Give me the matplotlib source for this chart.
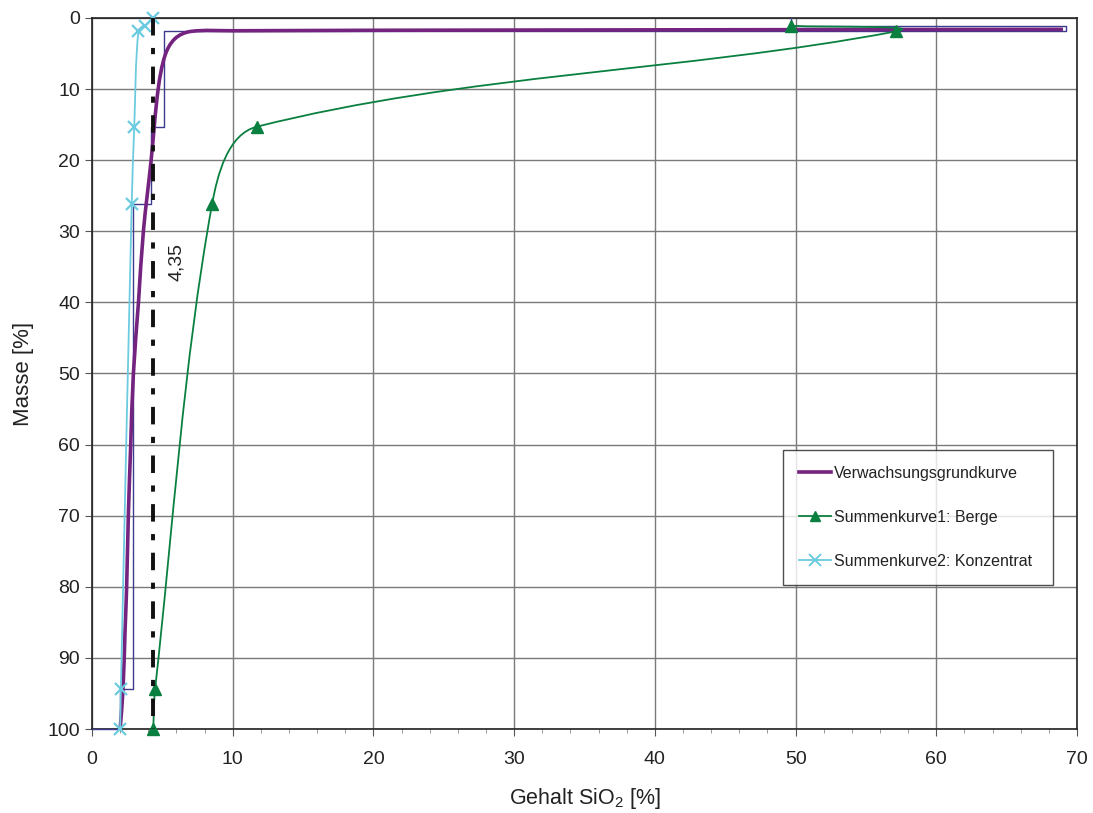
import matplotlib
matplotlib.use("Agg")
import matplotlib.pyplot as plt
import numpy as np
from matplotlib.path import Path
from matplotlib.patches import PathPatch
from matplotlib.lines import Line2D
from matplotlib.ticker import MultipleLocator

plt.rcParams['font.family'] = ['Liberation Sans', 'DejaVu Sans']
plt.rcParams['mathtext.fontset'] = 'custom'
plt.rcParams['mathtext.rm'] = 'Liberation Sans'
plt.rcParams['mathtext.it'] = 'Liberation Sans'

# Summenkurve1: Berge
berge_x = [4.35, 4.48, 8.53, 11.7, 57.1, 49.7]
berge_y = [100, 94.4, 26.2, 15.3, 1.9, 1.1]

# Summenkurve2: Konzentrat
konz_x = [2.0, 2.05, 2.82, 3.0, 3.3, 3.75, 4.35]
konz_y = [100, 94.4, 26.2, 15.3, 1.8, 1.1, 0]

# SiO2 content of each fraction (step histogram)
fraktion_x = [2.0, 2.94, 4.17, 5.12, 69.2, 49.7]
fraktion_m = [100, 94.4, 26.2, 15.3, 1.8, 1.2, 0]

# Verwachsungsgrundkurve
grund_x = [2.0, 2.2, 2.35, 2.46, 2.58, 2.75, 2.94, 3.3, 3.65, 4.2, 4.7, 5.2, 5.9, 7.0, 10, 30, 69]
grund_y = [100, 94.4, 86, 80, 70, 60, 50, 40, 30, 20, 10, 5.2, 2.9, 1.9, 1.8, 1.7, 1.6]

trennung = 4.35

c_purple = '#74237f'
c_green = '#0a8040'
c_cyan = '#6ccbe0'
c_navy = '#3b3b8f'
c_text = '#222222'


def smooth_path(ax, xs, ys):
    # excel-like smoothed line: bezier segments, tangents in display space
    pts = ax.transData.transform(np.column_stack([xs, ys]))
    n = len(pts)
    tang = []
    for i in range(n):
        a = pts[max(i - 1, 0)]
        b = pts[min(i + 1, n - 1)]
        d = b - a
        tang.append(d / (np.hypot(*d) + 1e-9))
    verts = [pts[0]]
    codes = [Path.MOVETO]
    for i in range(n - 1):
        d = np.hypot(*(pts[i + 1] - pts[i])) / 3
        verts += [pts[i] + tang[i] * d, pts[i + 1] - tang[i + 1] * d, pts[i + 1]]
        codes += [Path.CURVE4] * 3
    verts = ax.transData.inverted().transform(np.array(verts))
    return Path(verts, codes)


fig = plt.figure(figsize=(10.93, 8.13), dpi=100)
ax = fig.add_axes([0.0842, 0.1033, 0.9012, 0.8746])
ax.set_xlim(0, 70)
ax.set_ylim(100, 0)

ax.xaxis.set_major_locator(MultipleLocator(10))
ax.xaxis.set_minor_locator(MultipleLocator(2))
ax.yaxis.set_major_locator(MultipleLocator(10))
ax.grid(True, which='major', color='#7a7a7a', lw=1.0)
ax.set_axisbelow(True)
ax.tick_params(which='major', length=5, labelsize=14, direction='out', color='#555555',
               labelcolor=c_text)
ax.tick_params(which='minor', length=3, direction='out', color='#888888')
ax.tick_params(axis='x', which='major', pad=11)
for s in ax.spines.values():
    s.set_color(c_text)
    s.set_linewidth(1.2)

# step histogram of fractions
sx, sy = [0], [fraktion_m[0]]
for i, c in enumerate(fraktion_x):
    sx += [c, c]
    sy += [fraktion_m[i], fraktion_m[i + 1]]
ax.plot(sx, sy, color=c_navy, lw=1.0, zorder=3, clip_on=False)

ax.add_patch(PathPatch(smooth_path(ax, grund_x, grund_y), fc='none', ec=c_purple, lw=2.6, zorder=4))
ax.add_patch(PathPatch(smooth_path(ax, berge_x, berge_y), fc='none', ec=c_green, lw=1.3, zorder=4))
ax.add_patch(PathPatch(smooth_path(ax, konz_x, konz_y), fc='none', ec=c_cyan, lw=1.3, zorder=4))

ax.plot(berge_x, berge_y, ls='none', marker='^', ms=8, color=c_green, zorder=5, clip_on=False)
ax.plot(konz_x, konz_y, ls='none', marker='x', ms=9, mew=1.6, color=c_cyan, zorder=5, clip_on=False)

ax.plot([trennung, trennung], [0, 100], color='#111111', lw=2.8,
        dashes=(4.5, 3.2, 1.6, 3.2), zorder=6)
ax.text(5.97, 34.3, '4,35', rotation=90, ha='center', va='center', fontsize=14, color=c_text)

ax.set_xlabel('Gehalt SiO$_2$ [%]', fontsize=15.5, labelpad=13, color=c_text)
ax.set_ylabel('Masse [%]', fontsize=16, labelpad=10, color=c_text)

handles = [
    Line2D([], [], color=c_purple, lw=2.6),
    Line2D([], [], color=c_green, lw=1.3, marker='^', ms=7),
    Line2D([], [], color=c_cyan, lw=1.3, marker='x', ms=8, mew=1.4),
]
labels = ['Verwachsungsgrundkurve', 'Summenkurve1: Berge', 'Summenkurve2: Konzentrat']
leg = ax.legend(handles, labels, loc='upper left', bbox_to_anchor=(0.7015, 0.208, 0.274, 0.184),
                mode='expand', fontsize=11.5, frameon=True, fancybox=False, edgecolor=c_text,
                labelspacing=1.82, handlelength=2.05, handletextpad=0.15,
                borderpad=0.98, borderaxespad=0)
leg.get_frame().set_linewidth(1.0)
for t in leg.get_texts():
    t.set_color(c_text)

fig.savefig('out.png', dpi=100)
